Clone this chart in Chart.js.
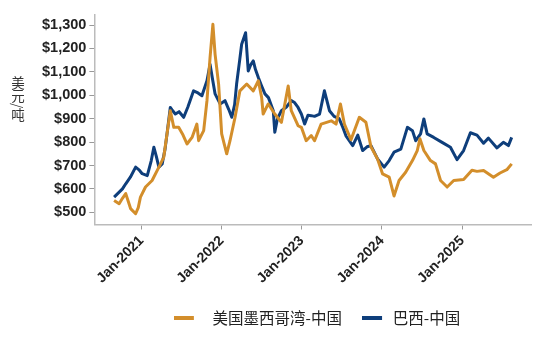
<!DOCTYPE html>
<html lang="zh">
<head>
<meta charset="UTF-8">
<title>美国墨西哥湾-中国 与 巴西-中国 运价</title>
<script src="https://cdn.jsdelivr.net/npm/chart.js"></script>
<style>
  body { margin: 0; background: #fff; }
  .wrap { position: relative; width: 534px; height: 340px; }
  .y-title {
    position: absolute; left: 8px; top: 76px;
    writing-mode: vertical-rl;
    font-family: "Noto Sans CJK SC", sans-serif;
    font-size: 13.5px; color: #333;
  }
</style>
</head>
<body>
<div class="wrap">
  <div class="y-title">美元/吨</div>
  <canvas id="freight"></canvas>
</div>
<script>
  // 美国墨西哥湾-中国
  const gulfDates = [
    '2020-08-29','2020-09-21','2020-10-06','2020-10-21','2020-11-12','2020-12-05','2020-12-17','2020-12-27',
    '2021-01-19','2021-02-18','2021-03-21','2021-04-12','2021-04-27','2021-05-12','2021-05-28','2021-06-19',
    '2021-07-09','2021-07-27','2021-08-19','2021-09-10','2021-09-18','2021-10-11','2021-10-26','2021-11-09',
    '2021-11-22','2021-12-02','2021-12-18','2022-01-01','2022-01-13','2022-01-24','2022-02-08','2022-03-03',
    '2022-03-25','2022-04-25','2022-05-25','2022-06-17','2022-07-02','2022-07-09','2022-08-01','2022-08-31',
    '2022-09-30','2022-10-31','2022-11-14','2022-12-15','2022-12-30','2023-01-21','2023-02-13','2023-02-28',
    '2023-03-30','2023-05-15','2023-06-06','2023-06-26','2023-07-14','2023-08-13','2023-09-20','2023-10-20',
    '2023-11-12','2023-12-12','2024-01-04','2024-02-03','2024-02-25','2024-03-19','2024-04-18','2024-05-19',
    '2024-06-10','2024-06-22','2024-07-10','2024-08-09','2024-09-01','2024-09-24','2024-10-24','2024-11-23',
    '2025-01-07','2025-02-14','2025-03-09','2025-04-08','2025-05-23','2025-06-22','2025-07-23','2025-08-14'
  ];
  const gulfPrices = [
    551, 537, 560, 580, 516, 494, 520, 565,
    608, 636, 693, 735, 835, 934, 863, 863,
    830, 792, 820, 877, 806, 849, 977, 1161,
    1303, 1175, 1048, 835, 790, 750, 806, 906,
    1019, 1048, 1019, 1062, 991, 920, 963, 920,
    884, 1040, 934, 870, 863, 806, 828, 806,
    877, 891, 877, 963, 877, 810, 906, 885,
    780, 728, 664, 650, 570, 636, 671, 721,
    764, 814, 764, 721, 707, 636, 608, 636,
    640, 680, 675, 679, 650, 668, 682, 707
  ];

  // 巴西-中国
  const brazilDates = [
    '2020-08-29','2020-09-21','2020-10-06','2020-10-21','2020-11-11','2020-12-05','2020-12-22','2021-01-04',
    '2021-01-27','2021-02-14','2021-02-26','2021-03-09','2021-03-21','2021-04-05','2021-04-18','2021-04-27',
    '2021-05-12','2021-05-22','2021-06-04','2021-06-21','2021-07-12','2021-07-31','2021-08-26','2021-09-15',
    '2021-10-03','2021-10-26','2021-11-09','2021-11-22','2021-12-02','2021-12-25','2022-01-16','2022-02-02',
    '2022-02-16','2022-03-01','2022-03-10','2022-03-24','2022-04-02','2022-04-20','2022-05-02','2022-05-13',
    '2022-05-25','2022-06-04','2022-06-17','2022-07-02','2022-07-17','2022-08-02','2022-08-24','2022-08-31',
    '2022-09-12','2022-09-30','2022-10-23','2022-11-14','2022-11-29','2022-12-15','2022-12-30','2023-01-14',
    '2023-01-29','2023-02-13','2023-02-28','2023-03-23','2023-04-14','2023-05-07','2023-05-28','2023-06-20',
    '2023-07-07','2023-07-22','2023-08-21','2023-09-13','2023-10-05','2023-10-25','2023-11-12','2023-12-12',
    '2024-01-11','2024-02-03','2024-02-25','2024-03-27','2024-04-26','2024-05-19','2024-06-03','2024-06-25',
    '2024-07-10','2024-07-25','2024-08-24','2024-10-01','2024-11-08','2024-12-08','2025-01-07','2025-02-07',
    '2025-03-09','2025-04-08','2025-04-30','2025-06-08','2025-07-07','2025-07-30','2025-08-14'
  ];
  const brazilPrices = [
    565, 586, 600, 622, 650, 693, 680, 665,
    657, 720, 778, 740, 693, 707, 770, 835,
    948, 935, 920, 930, 906, 950, 1019, 1010,
    998, 1062, 1133, 1060, 1006, 963, 977, 940,
    906, 960, 1048, 1150, 1218, 1267, 1104, 1130,
    1147, 1110, 1076, 1040, 1006, 990, 934, 842,
    900, 934, 950, 977, 969, 948, 920, 877,
    915, 913, 910, 920, 1019, 934, 910, 900,
    863, 825, 785, 830, 764, 780, 785, 728,
    693, 721, 757, 770, 863, 849, 806, 835,
    899, 835, 820, 799, 778, 725, 764, 840,
    830, 795, 817, 775, 799, 785, 820
  ];

  const yearTickDates = ['2021-01-01', '2022-01-01', '2023-01-01', '2024-01-01', '2025-01-01'];
  const yearTickLabels = ['Jan-2021', 'Jan-2022', 'Jan-2023', 'Jan-2024', 'Jan-2025'];
  const priceTicks = [500, 600, 700, 800, 900, 1000, 1100, 1200, 1300];

  const gulfColor = '#D38E2B';
  const brazilColor = '#0E3E7B';

  const toPoints = (dates, values) => dates.map((d, i) => ({ x: Date.parse(d), y: values[i] }));

  // legend marker: a 20px dash at the left of a canvas of the given width,
  // the image is centred on the legend box so a wider canvas pushes the dash left
  function dashMarker(color, width) {
    const c = document.createElement('canvas');
    c.width = width;
    c.height = 4;
    const g = c.getContext('2d');
    g.fillStyle = color;
    g.fillRect(0, 0, 20, 4);
    return c;
  }

  const tickFont = { family: "'Liberation Sans', Arial, sans-serif", size: 14, weight: 'bold' };

  // nudge the legend to the right so it sits under the plot
  const legendShift = {
    id: 'legendShift',
    afterLayout(chart) {
      chart.legend.left += 36;
      chart.legend.right += 36;
    }
  };

  new Chart(document.getElementById('freight'), {
    type: 'line',
    data: {
      datasets: [
        {
          label: '美国墨西哥湾-中国',
          data: toPoints(gulfDates, gulfPrices),
          borderColor: gulfColor,
          backgroundColor: gulfColor,
          borderWidth: 3,
          pointRadius: 0,
          pointStyle: dashMarker(gulfColor, 39),
          tension: 0,
          borderJoinStyle: 'round'
        },
        {
          label: '巴西-中国',
          data: toPoints(brazilDates, brazilPrices),
          borderColor: brazilColor,
          backgroundColor: brazilColor,
          borderWidth: 3,
          pointRadius: 0,
          pointStyle: dashMarker(brazilColor, 23),
          tension: 0,
          borderJoinStyle: 'round'
        }
      ]
    },
    options: {
      responsive: true,
      maintainAspectRatio: false,
      animation: false,
      layout: { padding: { left: 39, right: 3, top: 15, bottom: 4 } },
      scales: {
        x: {
          type: 'linear',
          min: Date.parse('2020-05-31'),
          max: Date.parse('2025-11-10'),
          afterBuildTicks: s => { s.ticks = yearTickDates.map(d => ({ value: Date.parse(d) })); },
          afterFit: s => { s.height = 66; },
          grid: { drawOnChartArea: false, tickLength: 5, color: '#999' },
          border: { color: '#bbb', width: 1.5 },
          ticks: {
            autoSkip: false,
            minRotation: 45,
            maxRotation: 45,
            color: '#222',
            font: tickFont,
            callback: (v, i) => yearTickLabels[i]
          }
        },
        y: {
          min: 448,
          max: 1343,
          afterBuildTicks: s => { s.ticks = priceTicks.map(v => ({ value: v })); },
          grid: { drawOnChartArea: false, tickLength: 5, color: '#999' },
          border: { color: '#bbb', width: 1.5 },
          ticks: {
            color: '#222',
            font: { ...tickFont, size: 14.5 },
            padding: 3,
            callback: v => '$' + v.toLocaleString('en-US')
          }
        }
      },
      plugins: {
        legend: {
          position: 'bottom',
          labels: {
            usePointStyle: true,
            pointStyleWidth: 23,
            padding: 20,
            color: '#222',
            font: { family: "'Noto Sans CJK SC', sans-serif", size: 15.5 }
          }
        },
        tooltip: { enabled: false }
      }
    },
    plugins: [legendShift]
  });
</script>
</body>
</html>
